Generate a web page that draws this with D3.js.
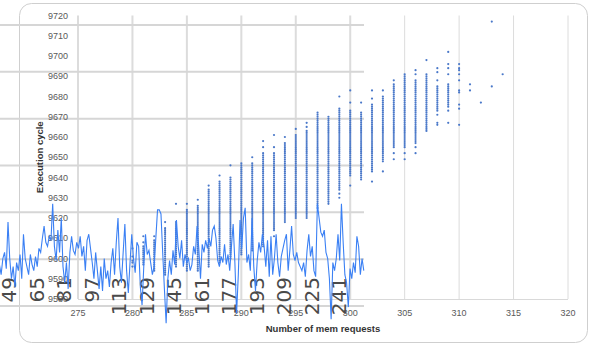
<!DOCTYPE html>
<html>
<head>
<meta charset="utf-8">
<script src="https://cdn.jsdelivr.net/npm/d3@7"></script>
<style>
  body { margin: 0; background: #fff; }
  svg { display: block; font-family: "Liberation Sans", Arial, sans-serif; }
</style>
</head>
<body>
<svg id="chart" width="591" height="346"></svg>
<script>
// scatter: execution cycle vs number of mem requests
const xTicks = [275, 280, 285, 290, 295, 300, 305, 310, 315, 320];
const yTicks = [9580, 9590, 9600, 9610, 9620, 9630, 9640, 9650, 9660, 9670, 9680, 9690, 9700, 9710, 9720];

// one column of dots per request count; runs are [lo, hi] of consecutive cycle values
const colX = [280, 281, 282, 283, 284, 285, 286, 287, 288, 289, 290, 291, 292, 293, 294, 295, 296,
  297, 298, 299, 300, 301, 302, 303, 304, 305, 306, 307, 308, 309, 310, 311, 312, 313, 314];
const colRuns = [
  [], [[9597, 9606]], [[9594, 9609]], [[9592, 9615]], [[9596, 9618]], [[9594, 9624]], [[9594, 9626]],
  [[9596, 9634]], [[9598, 9638]], [[9600, 9640]], [[9602, 9647]], [[9604, 9647]], [[9606, 9652]],
  [[9614, 9652]], [[9618, 9657]], [[9620, 9661]], [[9620, 9663]], [[9625, 9672]], [[9627, 9670]],
  [[9634, 9674]], [[9641, 9673]], [[9639, 9672]], [[9643, 9676]], [[9648, 9680]], [[9655, 9686]],
  [[9655, 9691]], [[9657, 9688]], [[9663, 9691]], [[9673, 9685]], [[9675, 9686]], [], [], [], [], []
];
const colSingles = [
  [9596, 9598, 9599, 9601, 9605], [9608, 9611], [9611], [9618], [9627], [9627], [9629],
  [9636], [9641], [9646], [], [9650], [9655, 9658], [9611, 9655, 9661], [9660], [9664], [9665, 9667],
  [], [], [9630, 9632, 9680], [9636, 9677, 9683], [9677], [9638, 9679, 9683], [9643, 9683], [9649, 9652, 9688],
  [9649, 9652], [9652, 9655, 9691, 9693], [9698], [9666, 9667, 9671, 9688, 9692, 9694],
  [9667, 9673, 9691, 9694, 9696, 9702], [9666, 9674, 9676, 9682, 9683, 9688, 9691, 9693, 9694, 9696],
  [9683, 9686], [9677], [9685, 9717], [9691]
];

// pasted-over line chart (indices 44..256)
const lineStart = 44;
const lineVals = [
  9597, 9592, 9600, 9603, 9595, 9618, 9600, 9590, 9596, 9586, 9598, 9594, 9602, 9590, 9612, 9600, 9596,
  9592, 9602, 9597, 9594, 9601, 9596, 9605, 9603, 9610, 9616, 9608, 9606, 9611, 9609, 9627, 9606, 9599,
  9614, 9603, 9620, 9596, 9588, 9598, 9585, 9603, 9611, 9604, 9602, 9608, 9605, 9611, 9601, 9606, 9594,
  9609, 9612, 9605, 9598, 9590, 9603, 9594, 9585, 9596, 9584, 9600, 9590, 9594, 9586, 9598, 9605, 9592,
  9608, 9620, 9596, 9588, 9603, 9617, 9594, 9583, 9598, 9612, 9600, 9593, 9608, 9606, 9586, 9577, 9596,
  9612, 9602, 9604, 9598, 9592, 9596, 9610, 9624, 9624, 9622, 9603, 9585, 9568, 9590, 9599, 9592, 9604,
  9597, 9619, 9606, 9600, 9609, 9596, 9602, 9598, 9600, 9594, 9597, 9606, 9602, 9616, 9605, 9590, 9607,
  9603, 9609, 9605, 9610, 9606, 9614, 9616, 9610, 9599, 9596, 9601, 9598, 9607, 9597, 9602, 9594, 9606,
  9617, 9598, 9573, 9592, 9619, 9605, 9620, 9625, 9598, 9602, 9594, 9620, 9596, 9584, 9599, 9608, 9603,
  9612, 9606, 9596, 9609, 9591, 9611, 9592, 9600, 9612, 9598, 9591, 9601, 9605, 9609, 9612, 9594, 9604,
  9616, 9602, 9599, 9603, 9598, 9596, 9594, 9598, 9591, 9604, 9612, 9601, 9606, 9594, 9591, 9627, 9620,
  9613, 9611, 9614, 9603, 9600, 9590, 9570, 9598, 9594, 9600, 9612, 9599, 9627, 9608, 9592, 9588, 9576,
  9595, 9590, 9598, 9593, 9611, 9606, 9592, 9600, 9594
];
const lineTicks = [49, 65, 81, 97, 113, 129, 145, 161, 177, 193, 209, 225, 241];
const lineGrid = [0, 1, 2, 3, 4, 5, 6];

const svg = d3.select('#chart');

const x = d3.scaleLinear().domain([275, 320]).range([78, 568]);
const y = d3.scaleLinear().domain([9580, 9720]).range([299, 15.5]);
const xi = d3.scaleLinear().domain([49, 241]).range([8, 338]);
const gy = d3.scaleLinear().domain([0, 6]).range([306, 25]);

// card
svg.append('rect')
  .attr('x', 19.5).attr('y', 3.5)
  .attr('width', 568).attr('height', 339)
  .attr('rx', 12)
  .attr('fill', '#fff')
  .attr('stroke', '#cfcfcf');

// vertical gridlines
svg.append('g').selectAll('line')
  .data(xTicks)
  .join('line')
  .attr('x1', d => x(d)).attr('x2', d => x(d))
  .attr('y1', y(9720)).attr('y2', y(9580))
  .attr('stroke', '#dcdcdc')
  .attr('stroke-width', d => x(d) < 364 ? 2 : 1);

// x axis line
svg.append('line')
  .attr('x1', x(275)).attr('x2', x(320))
  .attr('y1', y(9580) + 0.5).attr('y2', y(9580) + 0.5)
  .attr('stroke', '#d9d9d9');

// line chart gridlines
svg.append('g').selectAll('line')
  .data(lineGrid)
  .join('line')
  .attr('x1', 0).attr('x2', 364)
  .attr('y1', d => gy(d)).attr('y2', d => gy(d))
  .attr('stroke', '#d6d6d6')
  .attr('stroke-width', 2);

// tick labels
svg.append('g').selectAll('text')
  .data(yTicks)
  .join('text')
  .attr('x', 68).attr('y', d => y(d))
  .attr('dy', '0.35em')
  .attr('text-anchor', 'end')
  .attr('font-size', 9)
  .attr('fill', '#595959')
  .text(d => d);

svg.append('g').selectAll('text')
  .data(xTicks)
  .join('text')
  .attr('x', d => x(d)).attr('y', 316)
  .attr('text-anchor', 'middle')
  .attr('font-size', 9)
  .attr('fill', '#595959')
  .text(d => d);

// axis titles
svg.append('text')
  .attr('x', (x(275) + x(320)) / 2).attr('y', 332)
  .attr('text-anchor', 'middle')
  .attr('font-size', 9.5)
  .attr('font-weight', 'bold')
  .attr('fill', '#333')
  .text('Number of mem requests');

svg.append('text')
  .attr('transform', `translate(43, ${(y(9720) + y(9580)) / 2}) rotate(-90)`)
  .attr('text-anchor', 'middle')
  .attr('font-size', 9.5)
  .attr('font-weight', 'bold')
  .attr('fill', '#333')
  .text('Execution cycle');

// dots
const pts = [];
colX.forEach((cx, k) => {
  colRuns[k].forEach(([lo, hi]) => {
    for (let v = lo; v <= hi; v++) pts.push([cx, v]);
  });
  colSingles[k].forEach(v => pts.push([cx, v]));
});

svg.append('g').selectAll('circle')
  .data(pts)
  .join('circle')
  .attr('cx', d => x(d[0]))
  .attr('cy', d => y(d[1]))
  .attr('r', 1.1)
  .attr('fill', '#4a78c9');

// big rotated tick labels of the pasted line chart
svg.append('g').selectAll('text')
  .data(lineTicks)
  .join('text')
  .attr('transform', d => `translate(${xi(d) + 1}, 277) rotate(-90)`)
  .attr('text-anchor', 'end')
  .attr('dy', '0.36em')
  .attr('font-family', '"DejaVu Sans", sans-serif')
  .attr('font-size', 20)
  .attr('fill', '#4a4a4a')
  .text(d => d);

// the line
const line = d3.line()
  .x((d, i) => xi(lineStart + i))
  .y(d => y(d));

svg.append('path')
  .datum(lineVals)
  .attr('d', line)
  .attr('fill', 'none')
  .attr('stroke', '#3b80f4')
  .attr('stroke-width', 1.1);
</script>
</body>
</html>
